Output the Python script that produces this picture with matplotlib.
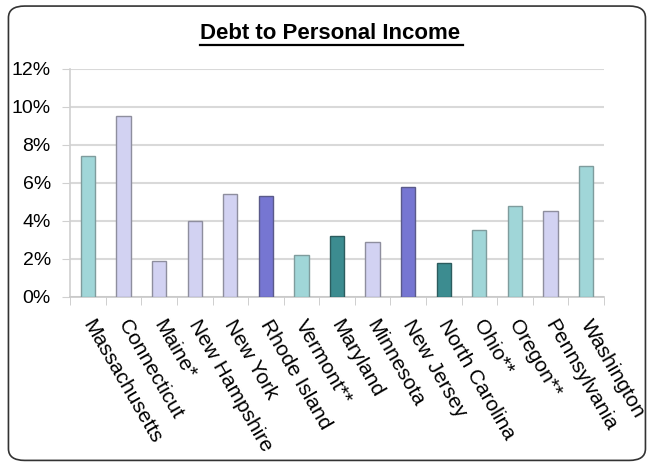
import matplotlib

matplotlib.use("Agg")
import matplotlib.pyplot as plt
import matplotlib.transforms as mtransforms
from matplotlib.patches import FancyBboxPatch
from matplotlib.lines import Line2D
from matplotlib.ticker import FuncFormatter, MultipleLocator

plt.rcParams["font.family"] = ["Liberation Sans", "DejaVu Sans"]

# debt as share of personal income, per state (%)
states = [
    "Massachusetts", "Connecticut", "Maine*", "New Hampshire", "New York",
    "Rhode Island", "Vermont**", "Maryland", "Minnesota", "New Jersey",
    "North Carolina", "Ohio**", "Oregon**", "Pennsylvania", "Washington",
]
debt_pct = [7.4, 9.5, 1.9, 4.0, 5.4, 5.3, 2.2, 3.2, 2.9, 5.8, 1.8, 3.5, 4.8, 4.5, 6.9]

# bar fill group for each state
groups = ["teal", "lav", "lav", "lav", "lav", "blue", "teal", "dark",
          "lav", "blue", "dark", "teal", "teal", "lav", "teal"]

PALETTE = {"teal": "#a0d6d8", "lav": "#d2d2f2", "blue": "#7676d2", "dark": "#3c8c90"}
EDGES = {"teal": "#7f9c9d", "lav": "#8e8e9e", "blue": "#5a5a8a", "dark": "#2c5c5e"}

fig = plt.figure(figsize=(6.5, 4.66), dpi=100)
ax = fig.add_axes([0.108, 0.363, 0.821, 0.489])

x = list(range(len(states)))
ax.bar(x, debt_pct, width=0.4,
       color=[PALETTE[g] for g in groups],
       edgecolor=[EDGES[g] for g in groups], linewidth=1.0, zorder=3)

ax.set_xlim(-0.5, len(states) - 0.5)
ax.set_ylim(0, 12)
ax.yaxis.set_major_locator(MultipleLocator(2))
ax.yaxis.set_major_formatter(FuncFormatter(lambda v, _: f"{v:.0f}%"))
ax.grid(axis="y", color="#d9d9d9", linewidth=1.5, zorder=0)

for side in ("top", "right"):
    ax.spines[side].set_visible(False)
ax.spines["left"].set_color("#d0d0d0")
ax.spines["bottom"].set_color("#c8c8c8")
ax.spines["left"].set_linewidth(1.2)
ax.spines["bottom"].set_linewidth(1.2)

ax.tick_params(axis="y", length=6, color="#d0d0d0", labelsize=14, pad=8)
# category separators on the x axis
ax.set_xticks([i - 0.5 for i in range(len(states) + 1)], minor=True)
ax.tick_params(axis="x", which="minor", length=6, color="#c8c8c8")
ax.tick_params(axis="x", which="major", length=0, labelsize=15, pad=0)
ax.set_xticks(x)
ax.set_xticklabels(states, rotation=-60, ha="left", va="top", rotation_mode="anchor")
shift = mtransforms.ScaledTranslation(5 / 72, -14 / 72, fig.dpi_scale_trans)
for lbl in ax.get_xticklabels():
    lbl.set_transform(lbl.get_transform() + shift)

# title with underline
fig.text(0.508, 0.928, "Debt to Personal Income", ha="center", va="center",
         fontsize=16, fontweight="bold")
fig.add_artist(Line2D([0.308, 0.712], [0.903, 0.903], color="black", linewidth=1.6))

# rounded frame around the whole chart
frame = FancyBboxPatch((0.013, 0.012), 0.98, 0.975, transform=fig.transFigure,
                       boxstyle="round,pad=0,rounding_size=0.025",
                       facecolor="none", edgecolor="#333333", linewidth=1.2)
fig.add_artist(frame)

fig.savefig("out.png", dpi=100)
